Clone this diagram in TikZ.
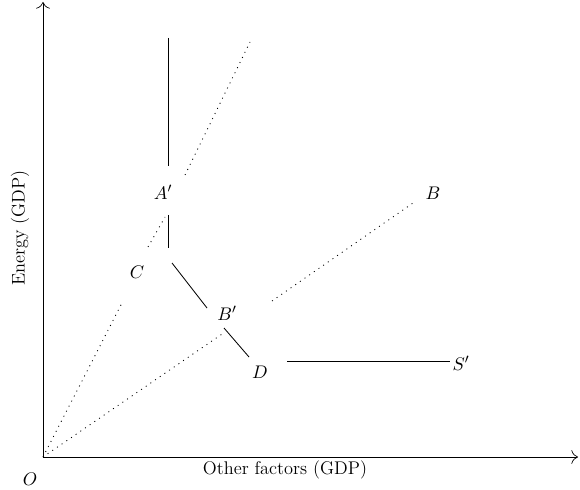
\documentclass[tikz,border=0pt]{standalone}
\usetikzlibrary{arrows.meta}
\begin{document}
\begin{tikzpicture}[x=0.6pt, y=-0.6pt, >={To[scale=1.6]},
	every node/.style={font=\fontsize{11}{13}\selectfont},
	ray/.style={line width=0.5pt, dash pattern=on 0.6pt off 2.8pt},
	curve/.style={line width=0.5pt}]
	% Frame:
	\useasboundingbox (0, 0) rectangle (580, 490);
	% Axes:
	\coordinate (O) at (43, 457);
	\coordinate (yend) at (43, 2);
	\coordinate (xend) at (578, 457);
	\draw[->] (O) -- (yend);
	\draw[->] (O) -- (xend);
	\node (Olbl) at (30, 479) {$O$};
	\node (xlbl) at (285, 470) {Other factors (GDP)};
	\node[rotate=90] (ylbl) at (20, 228) {Energy (GDP)};
	% Point labels:
	\node (Ap) at (163, 192) {$A'$};
	\node (C) at (137, 272) {$C$};
	\node (Bp) at (227, 313) {$B'$};
	\node (D) at (260, 372) {$D$};
	\node (B) at (433, 193) {$B$};
	\node (Sp) at (461, 363) {$S'$};
	% Isoquant:
	\coordinate (a1) at (168, 38);
	\coordinate (a2) at (168, 166);
	\coordinate (a3) at (168, 215);
	\coordinate (a4) at (168, 248);
	\coordinate (c1) at (172, 263);
	\coordinate (c2) at (207, 308);
	\coordinate (c3) at (224, 328);
	\coordinate (c4) at (249, 357);
	\coordinate (s1) at (287, 361);
	\coordinate (s2) at (450, 361);
	\draw[curve] (a1) -- (a2);
	\draw[curve] (a3) -- (a4);
	\draw[curve] (c1) -- (c2);
	\draw[curve] (c3) -- (c4);
	\draw[curve] (s1) -- (s2);
	% Rays from the origin:
	\coordinate (p1) at (123, 301);
	\coordinate (p2) at (148, 247);
	\coordinate (p3) at (165, 217);
	\coordinate (p4) at (185, 175);
	\coordinate (p5) at (250, 42);
	\draw[ray] (O) -- (p1);
	\draw[ray] (p2) -- (p3);
	\draw[ray] (p4) -- (p5);
	\coordinate (q1) at (225, 332);
	\coordinate (q2) at (272, 301);
	\coordinate (q3) at (413, 203);
	\draw[ray] (O) -- (q1);
	\draw[ray] (q2) -- (q3);
\end{tikzpicture}
\end{document}
